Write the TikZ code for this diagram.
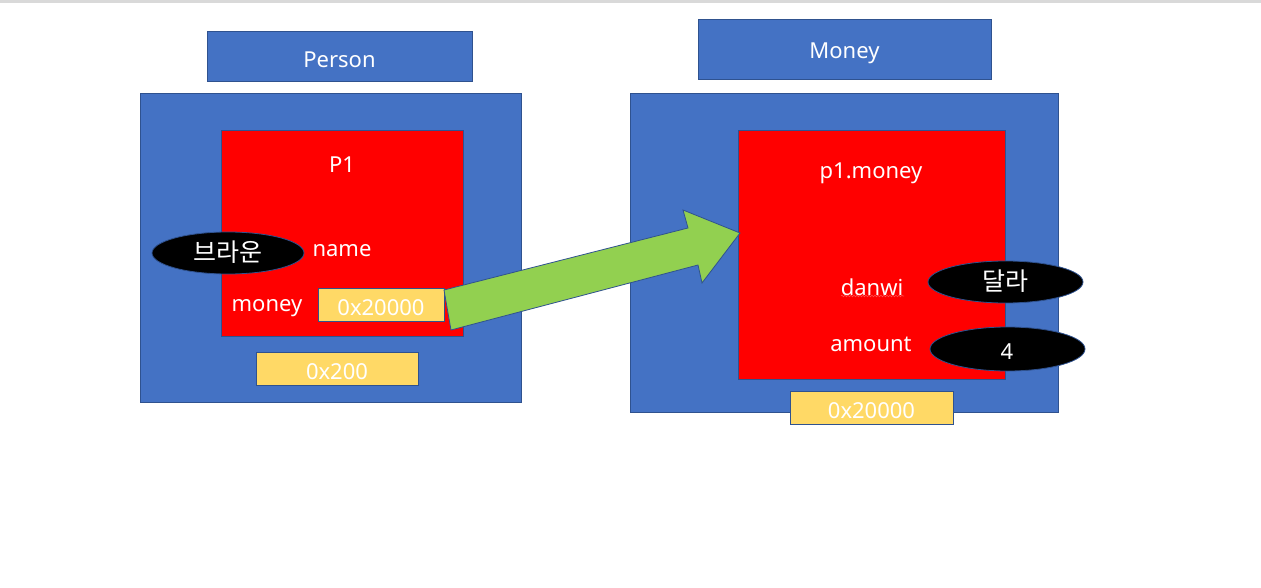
\documentclass[tikz,border=0pt]{standalone}
\usepackage{fontspec}
\setmainfont{Noto Sans}
\newfontfamily\kr{Noto Sans CJK KR}
\usetikzlibrary{shapes.geometric,decorations.pathmorphing}
\definecolor{blu}{HTML}{4472C4}
\definecolor{bord}{HTML}{2F528F}
\definecolor{yel}{HTML}{FFD966}
\definecolor{grn}{HTML}{92D050}
\tikzset{
  box/.style={draw=bord, line width=0.8pt},
  bluebox/.style={box, fill=blu},
  redbox/.style={box, fill=red},
  yelbox/.style={box, fill=yel},
  lbl/.style={text=white, font=\fontsize{22}{26}\selectfont, inner sep=0pt, yshift=-3pt},
  krlbl/.style={text=white, font=\kr\fontsize{25}{28}\selectfont, inner sep=0pt},
  oval/.style={draw=bord, fill=black, line width=0.8pt},
}
\begin{document}
\begin{tikzpicture}[x=1pt,y=-1pt]
\useasboundingbox (0,0) rectangle (1261,588);
\fill[white] (0,0) rectangle (1261,588);
\fill[black!15] (0,0) rectangle (1261,3);
% Person
\draw[bluebox] (207,31) rectangle (472,81);
\node[lbl] (person) at (339.5,57) {Person};
\draw[bluebox] (140,93) rectangle (521,402);
\draw[redbox] (221,130) rectangle (463,336);
\node[lbl] (p1) at (342,162) {P1};
\draw[oval] (228,253) ellipse (76 and 21);
\node[krlbl] (brown) at (228,252) {브라운};
\node[lbl] (name) at (342,248) {name};
\node[lbl] (money) at (267,305) {money};
\draw[yelbox] (318,288) rectangle (444,321);
\node[lbl] (addr1) at (381,304.5) {0x20000};
\draw[yelbox] (256,352) rectangle (418,385);
\node[lbl] (addr0) at (337,368.5) {0x200};
% Money
\draw[bluebox] (698,19) rectangle (991,79);
\node[lbl] (moneyt) at (844.5,50) {Money};
\draw[bluebox] (630,93) rectangle (1058,412);
\draw[redbox] (738,130) rectangle (1005,379);
\node[lbl] (p1m) at (871,170) {p1.money};
\node[lbl] (danwi) at (872,284) {danwi};
\draw[red!70, line width=0.6pt, decorate, decoration={snake, amplitude=0.8pt, segment length=3pt}] (841,296) -- (904,296);
\draw[oval] (1005.5,282) ellipse (77.5 and 21);
\node[krlbl] (dalla) at (1005,281) {달라};
\node[lbl] (amount) at (871,341) {amount};
\draw[oval] (1007.5,349) ellipse (77.5 and 22);
\node[lbl] (four) at (1007,349) {4};
\draw[yelbox] (790,391) rectangle (953,424);
\node[lbl] (addr2) at (871.5,407.5) {0x20000};
% arrow
\draw[draw=bord, fill=grn, line width=0.8pt, line join=miter]
  (444,290) -- (688,228) -- (683,210) -- (740,233) -- (702,283) -- (698,265) -- (451,330) -- cycle;
\end{tikzpicture}
\end{document}
